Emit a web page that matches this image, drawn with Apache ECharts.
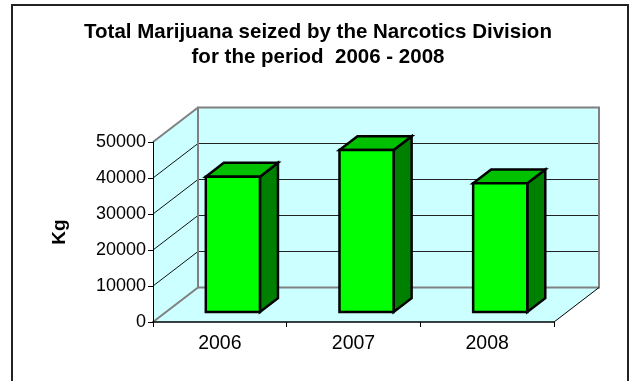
<!DOCTYPE html>
<html>
<head>
<meta charset="utf-8">
<script src="https://cdn.jsdelivr.net/npm/echarts@6/dist/echarts.min.js"></script>
<style>
html,body{margin:0;padding:0;background:#fff;}
#main{width:636px;height:381px;}
</style>
</head>
<body>
<div id="main"></div>
<script>
// ---- data ----
var years = ['2006', '2007', '2008'];
var seizedKg = [37600, 45000, 35750];
var yTicks = [0, 10000, 20000, 30000, 40000, 50000];
var titleLines = ['Total Marijuana seized by the Narcotics Division', 'for the period  2006 - 2008'];
var yAxisName = 'Kg';

// ---- style constants (3D projection) ----
var DEPTH = [45, -34.5];   // pixel offset from front plane to back wall
var BAR_FRONT = 0.29;      // bar front face depth fraction
var BAR_DEPTH = 0.4;       // bar depth fraction
var BAR_WIDTH = 0.405;     // fraction of category band
var WALL = '#CCFFFF';
var WALL_EDGE = '#808080';

var chart = echarts.init(document.getElementById('main'));

function pt(p, f) { return [p[0] + DEPTH[0] * f, p[1] + DEPTH[1] * f]; }

function renderWalls(params, api) {
  var cs = params.coordSys;
  var x0 = cs.x, x1 = cs.x + cs.width;
  var yb = api.coord([0, yTicks[0]])[1];
  var yt = api.coord([0, yTicks[yTicks.length - 1]])[1];
  var dx = DEPTH[0], dy = DEPTH[1];
  var children = [];
  children.push({type: 'polygon', shape: {points: [[x0, yb], [x1, yb], [x1 + dx, yb + dy], [x0 + dx, yb + dy]]},
    style: {fill: WALL, stroke: null}});
  children.push({type: 'polygon', shape: {points: [[x0, yt], [x0 + dx, yt + dy], [x0 + dx, yb + dy], [x0, yb]]},
    style: {fill: WALL, stroke: null}});
  children.push({type: 'rect', shape: {x: x0 + dx, y: yt + dy, width: x1 - x0, height: yb - yt},
    style: {fill: WALL, stroke: null}});
  for (var i = 1; i < yTicks.length - 1; i++) {
    var y = api.coord([0, yTicks[i]])[1];
    children.push({type: 'line', shape: {x1: x0 + dx, y1: y + dy, x2: x1 + dx, y2: y + dy},
      style: {stroke: '#222', lineWidth: 1.2}});
    children.push({type: 'line', shape: {x1: x0, y1: y, x2: x0 + dx, y2: y + dy},
      style: {stroke: '#111', lineWidth: 1}});
  }
  children.push({type: 'rect', shape: {x: x0 + dx, y: yt + dy, width: x1 - x0, height: yb - yt},
    style: {fill: null, stroke: WALL_EDGE, lineWidth: 2}});
  children.push({type: 'line', shape: {x1: x0, y1: yt, x2: x0 + dx, y2: yt + dy},
    style: {stroke: WALL_EDGE, lineWidth: 2}});
  children.push({type: 'line', shape: {x1: x0, y1: yb, x2: x0 + dx, y2: yb + dy},
    style: {stroke: WALL_EDGE, lineWidth: 2}});
  children.push({type: 'line', shape: {x1: x1, y1: yb, x2: x1 + dx, y2: yb + dy},
    style: {stroke: '#000', lineWidth: 1}});
  return {type: 'group', children: children};
}

function renderBar(params, api) {
  var idx = api.value(0), val = api.value(1);
  var base = api.coord([idx, 0]);
  var top = api.coord([idx, val]);
  var band = api.size([1, 0])[0];
  var w = band * BAR_WIDTH;
  var fl = pt([base[0] - w / 2, base[1]], BAR_FRONT);
  var fr = pt([base[0] + w / 2, base[1]], BAR_FRONT);
  var tl = pt([top[0] - w / 2, top[1]], BAR_FRONT);
  var tr = pt([top[0] + w / 2, top[1]], BAR_FRONT);
  var g = BAR_DEPTH;
  var tlb = pt(tl, g), trb = pt(tr, g), frb = pt(fr, g);
  var line = {stroke: '#000', lineWidth: 2.5, lineJoin: 'miter'};
  return {type: 'group', children: [
    {type: 'polygon', shape: {points: [tr, trb, frb, fr]}, style: Object.assign({fill: '#008000'}, line)},
    {type: 'polygon', shape: {points: [tl, tr, trb, tlb]}, style: Object.assign({fill: '#00C000'}, line)},
    {type: 'polygon', shape: {points: [tl, tr, fr, fl]}, style: Object.assign({fill: '#00FF00'}, line)}
  ]};
}

var option = {
  backgroundColor: '#fff',
  animation: false,
  title: {
    text: titleLines.join('\n'),
    left: 'center',
    top: 20,
    padding: 0,
    textStyle: {fontFamily: 'Liberation Sans', fontWeight: 'bold', fontSize: 20.5, lineHeight: 25, color: '#000'}
  },
  graphic: [{type: 'rect', shape: {x: 12, y: 5, width: 616, height: 400},
    style: {fill: null, stroke: '#222', lineWidth: 2}, z: 100, silent: true}],
  grid: {left: 153, top: 142, width: 401, height: 180, containLabel: false},
  xAxis: {
    type: 'category', data: years, boundaryGap: true, z: 10,
    axisLine: {lineStyle: {color: '#000', width: 1.5}},
    axisTick: {show: true, length: 5, lineStyle: {color: '#000'}},
    axisLabel: {fontFamily: 'Liberation Sans', fontSize: 19.5, color: '#000', margin: 12},
    splitLine: {show: false}
  },
  yAxis: {
    type: 'value', min: yTicks[0], max: yTicks[yTicks.length - 1], interval: yTicks[1] - yTicks[0], z: 10,
    name: yAxisName, nameLocation: 'middle', nameRotate: 90, nameGap: 84,
    nameTextStyle: {fontFamily: 'Liberation Sans', fontWeight: 'bold', fontSize: 19, color: '#000'},
    axisLine: {show: true, lineStyle: {color: '#000', width: 1}},
    axisTick: {show: true, length: 5, lineStyle: {color: '#000'}},
    axisLabel: {fontFamily: 'Liberation Sans', fontSize: 18, color: '#000', margin: 7,
      formatter: function (v) { return String(v); }},
    splitLine: {show: false}
  },
  series: [
    {type: 'custom', renderItem: renderWalls, data: [[0, 0]], silent: true, z: 1},
    {type: 'custom', renderItem: renderBar, z: 3,
      data: seizedKg.map(function (v, i) { return [i, v]; })}
  ]
};
chart.setOption(option);
</script>
</body>
</html>
